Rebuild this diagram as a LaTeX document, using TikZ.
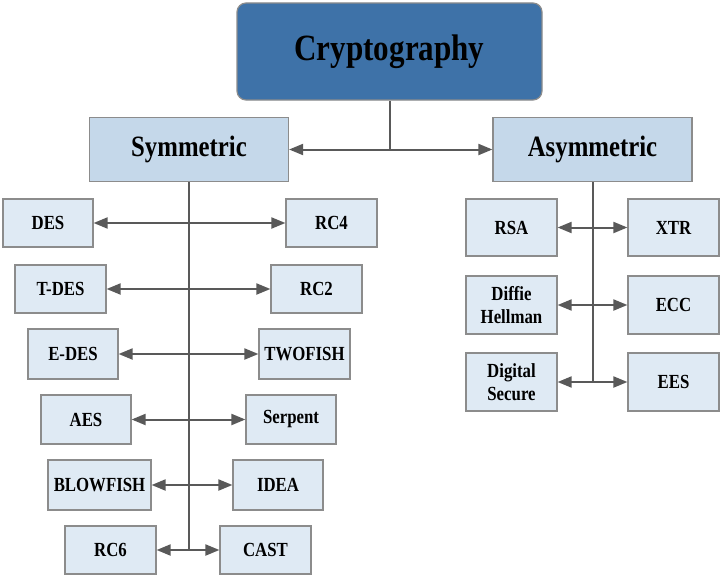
\documentclass[tikz,border=0pt]{standalone}
\usepackage{fontspec}
\setmainfont{Liberation Serif}[FakeStretch=0.84]
\usetikzlibrary{arrows.meta}
\definecolor{topfill}{HTML}{3E72A8}
\definecolor{midfill}{HTML}{C5D8EA}
\definecolor{leaffill}{HTML}{DFEAF4}
\definecolor{boxline}{HTML}{8C8C8C}
\definecolor{conn}{HTML}{595959}
\tikzset{
  topbox/.style={draw=boxline, line width=1.2pt, fill=topfill, rounded corners=9pt,
    minimum width=305pt, minimum height=97pt, inner sep=0pt,
    font=\fontsize{37}{40}\selectfont\bfseries},
  midbox/.style={draw=boxline, line width=1.2pt, fill=midfill,
    minimum width=199pt, minimum height=64pt, inner sep=0pt,
    font=\fontsize{29.5}{34}\selectfont\bfseries},
  leaf/.style={draw=boxline, line width=1.2pt, fill=leaffill,
    minimum width=91pt, minimum height=49pt, inner sep=0pt, align=center,
    font=\fontsize{20}{23}\selectfont\bfseries},
  arr/.style={draw=conn, line width=2pt, {Triangle[length=14pt,width=11pt]}-{Triangle[length=14pt,width=11pt]}},
  vline/.style={draw=conn, line width=2pt},
}
\begin{document}
\begin{tikzpicture}[x=1pt,y=-1pt]
\useasboundingbox (0,0) rectangle (722,578);
\node[topbox] (crypto) at (389.5,51.5) {Cryptography};
\node[midbox] (sym) at (189,149.5) {Symmetric};
\node[midbox] (asym) at (592.5,149.5) {Asymmetric};
% symmetric leaves
\node[leaf, minimum width=90pt, minimum height=48pt] (des) at (48,223) {DES};
\node[leaf, minimum height=48pt] (rc4) at (331.5,223) {RC4};
\node[leaf, minimum height=48pt] (tdes) at (60.5,289) {T-DES};
\node[leaf, minimum height=48pt] (rc2) at (316.5,289) {RC2};
\node[leaf, minimum width=90pt, minimum height=50pt] (edes) at (73,354) {E-DES};
\node[leaf, minimum height=50pt] (twofish) at (304.5,354) {TWOFISH};
\node[leaf, minimum width=90pt] (aes) at (86,419.5) {AES};
\node[leaf, minimum width=90pt] (serpent) at (291,419.5) {Serpent};
\node[leaf, minimum width=103pt, minimum height=50pt] (blowfish) at (99.5,485) {BLOWFISH};
\node[leaf, minimum width=90pt, minimum height=50pt] (idea) at (278,485) {IDEA};
\node[leaf, minimum height=48pt] (rc6) at (110.5,550) {RC6};
\node[leaf, minimum height=48pt] (cast) at (265.5,550) {CAST};
% asymmetric leaves
\node[leaf, minimum height=57pt] (rsa) at (511.5,227.5) {RSA};
\node[leaf, minimum height=57pt] (xtr) at (673.5,227.5) {XTR};
\node[leaf, minimum height=58pt] (dh) at (511.5,305) {Diffie\\Hellman};
\node[leaf, minimum height=58pt] (ecc) at (673.5,305) {ECC};
\node[leaf, minimum height=58pt] (ds) at (511.5,382) {Digital\\Secure};
\node[leaf, minimum height=58pt] (ees) at (673.5,382) {EES};
% top connectors
\draw[vline] (crypto.south) -- (crypto.south |- sym.east);
\draw[arr] (sym.east) -- (asym.west);
% trunk lines
\draw[vline] (sym.south) -- (sym.south |- rc6.east);
\draw[vline] (asym.south) -- (asym.south |- ds.east);
% symmetric arrows
\draw[arr] (des.east) -- (rc4.west);
\draw[arr] (tdes.east) -- (rc2.west);
\draw[arr] (edes.east) -- (twofish.west);
\draw[arr] (aes.east) -- (serpent.west);
\draw[arr] (blowfish.east) -- (idea.west);
\draw[arr] (rc6.east) -- (cast.west);
% asymmetric arrows
\draw[arr] (rsa.east) -- (xtr.west);
\draw[arr] (dh.east) -- (ecc.west);
\draw[arr] (ds.east) -- (ees.west);
\end{tikzpicture}
\end{document}
